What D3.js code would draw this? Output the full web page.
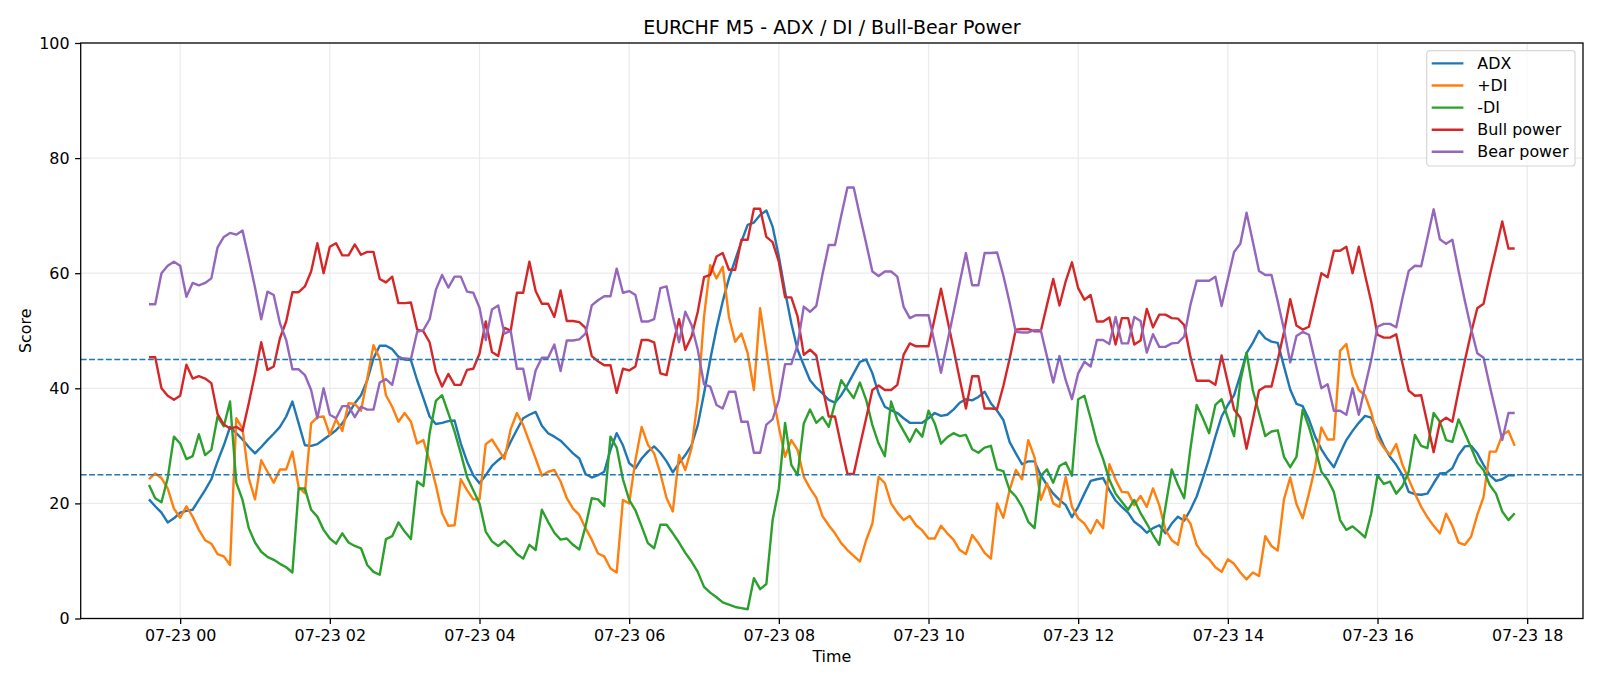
<!DOCTYPE html>
<html>
<head>
<meta charset="utf-8">
<script src="https://cdn.jsdelivr.net/npm/d3@7"></script>
<style>
  html, body { margin: 0; padding: 0; background: #fff; }
  svg { display: block; font-family: "DejaVu Sans", sans-serif; }
</style>
</head>
<body>
<div id="chart"></div>
<script>
// M5 bars, first bar 07-22 23:35 (UTC)
const startTime = Date.UTC(2025, 6, 22, 23, 35);
const stepMinutes = 5;

const adx = [
  20.7, 19.5, 18.4, 16.7, 17.4, 18.4, 18.7, 18.9, 20.6, 22.3,
  24.2, 27.3, 30.1, 33.3, 32.2, 31.1, 29.8, 28.7, 29.8, 31.0,
  32.1, 33.3, 35.1, 37.7, 33.9, 30.1, 30.0, 30.3, 31.1, 31.9,
  32.7, 33.9, 35.6, 37.4, 38.8, 41.4, 45.2, 47.4, 47.4, 46.8,
  45.5, 45.0, 44.9, 41.4, 38.3, 35.1, 33.8, 34.0, 34.3, 34.4,
  30.4, 27.3, 24.9, 23.5, 24.9, 26.5, 27.5, 28.4, 30.7, 32.8,
  34.8, 35.4, 35.9, 33.5, 32.2, 31.6, 30.9, 29.8, 28.7, 27.8,
  25.1, 24.5, 24.9, 25.5, 29.3, 32.2, 30.1, 27.0, 26.1, 27.8,
  29.0, 29.9, 28.8, 27.3, 25.4, 27.0, 28.4, 30.1, 33.6, 39.1,
  45.0, 50.4, 55.1, 59.1, 62.3, 65.5, 68.4, 68.8, 70.1, 70.9,
  68.1, 62.9, 56.8, 51.3, 46.7, 44.0, 41.4, 40.1, 39.1, 38.0,
  37.5, 38.8, 40.6, 42.6, 44.6, 45.0, 42.6, 39.1, 36.8, 36.2,
  35.7, 34.8, 34.0, 34.0, 34.0, 34.8, 35.7, 35.2, 35.4, 36.3,
  37.5, 38.1, 37.9, 38.5, 39.4, 37.4, 36.1, 34.5, 30.7, 28.7,
  26.8, 27.3, 27.3, 24.9, 23.2, 21.7, 20.6, 19.7, 17.6, 19.4,
  21.7, 23.9, 24.2, 24.4, 22.3, 20.5, 19.4, 18.4, 16.8, 16.0,
  14.9, 15.7, 16.2, 14.8, 16.5, 17.7, 17.0, 18.9, 21.2, 24.4,
  27.8, 31.6, 35.1, 37.1, 38.8, 42.3, 46.1, 47.9, 50.0, 48.7,
  48.1, 47.9, 43.8, 39.8, 37.3, 36.9, 34.6, 31.6, 29.4, 27.7,
  26.3, 28.7, 31.0, 32.6, 34.0, 35.2, 34.9, 32.5, 30.0, 28.1,
  26.7, 24.9, 22.0, 21.6, 21.5, 21.7, 23.5, 25.2, 25.3, 26.1,
  28.4, 29.9, 30.0, 28.7, 26.7, 24.9, 23.9, 24.2, 24.9, 24.9
];

const plusDI = [
  24.2, 25.2, 24.4, 22.6, 19.1, 17.5, 19.5, 17.7, 15.4, 13.6,
  13.0, 11.2, 10.8, 9.3, 34.8, 33.0, 24.4, 20.7, 27.5, 25.5,
  23.6, 25.9, 25.9, 29.0, 22.8, 21.8, 33.9, 35.0, 35.1, 31.9,
  34.6, 32.6, 37.4, 37.3, 36.1, 41.7, 47.5, 45.2, 38.8, 36.8,
  34.2, 35.7, 34.2, 30.4, 31.0, 27.3, 23.2, 18.3, 16.1, 16.2,
  24.2, 22.3, 20.7, 20.7, 30.3, 31.1, 29.4, 27.7, 32.9, 35.7,
  33.6, 30.7, 27.8, 24.8, 25.5, 25.8, 23.8, 20.9, 19.1, 18.0,
  15.7, 13.7, 11.3, 10.8, 8.7, 8.0, 20.6, 20.0, 27.5, 33.3,
  30.2, 28.7, 25.2, 20.9, 18.6, 28.4, 25.8, 29.6, 38.0, 52.4,
  61.4, 59.1, 61.1, 52.4, 48.1, 49.5, 46.1, 39.7, 53.9, 46.6,
  39.1, 33.3, 28.1, 31.0, 29.3, 24.6, 22.6, 21.0, 17.8, 16.2,
  14.8, 13.1, 11.9, 10.9, 9.9, 13.6, 16.5, 24.6, 23.5, 20.0,
  18.4, 17.1, 17.8, 16.2, 15.3, 13.9, 13.9, 16.1, 14.8, 13.7,
  11.9, 11.2, 14.5, 13.1, 11.4, 10.4, 20.0, 17.5, 22.3, 25.8,
  24.2, 31.0, 28.0, 20.6, 23.5, 20.0, 19.4, 24.6, 19.4, 17.4,
  16.5, 14.8, 17.1, 15.7, 26.8, 24.1, 22.0, 21.9, 19.7, 21.3,
  19.4, 22.6, 19.7, 15.4, 13.6, 12.8, 18.0, 16.5, 12.8, 11.2,
  10.3, 8.9, 8.1, 10.3, 9.5, 8.0, 6.8, 8.0, 7.4, 14.3,
  12.6, 11.8, 20.7, 24.5, 19.9, 17.4, 21.7, 26.3, 33.2, 31.1,
  31.1, 46.5, 47.7, 42.3, 39.7, 38.8, 35.8, 31.4, 29.7, 28.4,
  30.3, 26.7, 24.2, 21.7, 19.4, 17.6, 16.1, 14.8, 18.2, 16.1,
  13.2, 12.8, 14.2, 18.0, 21.1, 29.0, 29.0, 31.9, 32.6, 30.0
];

const minusDI = [
  23.2, 20.9, 20.2, 24.4, 31.6, 30.4, 27.7, 28.2, 32.0, 28.4,
  29.3, 35.1, 33.4, 37.7, 23.6, 20.6, 15.7, 13.2, 11.6, 10.7,
  10.2, 9.5, 8.9, 8.0, 22.6, 22.6, 18.9, 17.7, 15.4, 13.9,
  13.0, 14.8, 13.2, 12.6, 12.2, 9.3, 8.1, 7.6, 13.8, 14.3,
  16.7, 15.1, 13.8, 23.8, 23.0, 32.2, 37.8, 38.8, 35.7, 32.5,
  28.7, 24.6, 22.3, 20.0, 15.1, 13.4, 12.6, 13.5, 12.5, 11.2,
  10.4, 12.8, 11.9, 18.9, 16.8, 14.9, 13.7, 13.9, 12.8, 12.0,
  16.0, 20.9, 20.7, 19.5, 31.6, 29.7, 24.2, 20.6, 18.8, 16.0,
  13.1, 12.2, 16.3, 16.3, 14.8, 13.2, 11.4, 9.9, 8.1, 5.5,
  4.5, 3.7, 2.8, 2.4, 2.0, 1.8, 1.6, 7.0, 5.1, 6.0,
  17.1, 22.6, 34.0, 26.7, 24.9, 33.9, 36.3, 34.0, 35.0, 33.3,
  37.4, 41.4, 39.8, 38.3, 41.0, 38.0, 33.6, 30.4, 28.2, 37.7,
  34.5, 32.6, 30.7, 32.9, 31.6, 36.1, 33.9, 30.4, 31.5, 32.2,
  31.7, 31.9, 29.4, 28.8, 29.7, 30.0, 25.9, 25.6, 22.3, 21.2,
  19.4, 16.8, 15.7, 24.8, 25.9, 23.6, 26.5, 27.1, 24.8, 38.1,
  38.7, 34.8, 30.6, 27.7, 24.1, 21.7, 20.3, 18.9, 20.6, 18.3,
  16.5, 14.5, 12.8, 19.4, 25.9, 23.2, 20.9, 29.5, 37.1, 34.8,
  32.2, 37.1, 38.1, 34.8, 31.7, 41.2, 46.2, 39.7, 35.7, 31.7,
  32.5, 32.7, 28.1, 26.3, 28.1, 36.3, 33.3, 29.6, 25.5, 24.1,
  22.0, 17.1, 15.4, 16.0, 15.1, 14.1, 18.3, 24.9, 23.4, 23.8,
  21.7, 23.0, 25.5, 31.9, 30.0, 29.6, 35.7, 34.2, 31.0, 30.7,
  34.6, 32.2, 29.7, 27.1, 25.8, 23.2, 21.7, 18.6, 17.1, 18.3
];

const bullPower = [
  45.4, 45.4, 40.0, 38.7, 38.0, 38.7, 44.1, 41.7, 42.1, 41.7,
  40.9, 35.5, 33.7, 33.0, 33.3, 32.6, 37.4, 42.5, 48.0, 43.2,
  43.8, 48.7, 51.6, 56.7, 56.7, 57.7, 60.3, 65.2, 60.0, 64.6,
  65.2, 63.1, 63.1, 65.0, 63.2, 63.7, 63.7, 59.0, 58.4, 59.4,
  54.8, 54.8, 54.9, 50.2, 49.9, 48.0, 42.9, 40.3, 42.5, 40.6,
  40.6, 43.2, 43.4, 46.0, 51.6, 46.3, 45.6, 50.5, 50.0, 56.6,
  56.6, 62.0, 56.9, 54.7, 54.7, 52.4, 57.0, 51.7, 51.7, 51.5,
  50.5, 45.6, 44.7, 44.0, 44.0, 39.2, 43.4, 43.1, 43.8, 48.4,
  48.4, 48.0, 42.6, 42.3, 47.5, 52.0, 46.7, 49.0, 53.3, 59.3,
  59.7, 62.9, 63.5, 60.6, 60.6, 65.8, 65.8, 71.2, 71.2, 66.3,
  65.4, 62.0, 55.8, 55.8, 52.5, 45.8, 46.7, 45.7, 40.2, 35.1,
  35.1, 30.0, 25.1, 25.1, 30.0, 34.8, 39.7, 40.5, 39.7, 39.7,
  40.6, 45.8, 47.8, 47.3, 47.3, 47.3, 52.2, 57.3, 52.1, 46.9,
  41.6, 36.5, 42.1, 42.1, 36.5, 36.5, 36.4, 40.4, 45.1, 50.2,
  50.3, 50.3, 49.9, 49.9, 54.5, 59.0, 54.4, 58.6, 61.9, 57.4,
  55.4, 56.2, 51.6, 51.6, 52.3, 47.6, 52.2, 52.2, 47.6, 48.3,
  53.8, 50.6, 52.8, 52.8, 52.2, 52.1, 51.0, 45.5, 41.3, 41.3,
  41.3, 40.6, 45.7, 41.0, 36.3, 34.9, 29.5, 34.5, 39.6, 40.3,
  40.3, 44.9, 49.8, 55.5, 50.9, 50.2, 50.7, 55.4, 60.0, 59.3,
  63.9, 63.9, 64.6, 60.0, 64.6, 59.7, 55.0, 49.3, 48.8, 48.8,
  49.4, 44.3, 39.6, 38.7, 38.8, 33.9, 28.9, 34.1, 34.9, 34.2,
  39.6, 44.8, 49.6, 53.9, 54.7, 59.6, 64.2, 69.0, 64.3, 64.3
];

const bearPower = [
  54.6, 54.6, 60.0, 61.3, 62.0, 61.3, 55.9, 58.3, 57.9, 58.3,
  59.1, 64.5, 66.3, 67.0, 66.7, 67.4, 62.6, 57.5, 52.0, 56.8,
  56.2, 51.3, 48.4, 43.3, 43.3, 42.3, 39.7, 34.8, 40.0, 35.4,
  34.8, 36.9, 36.9, 35.0, 36.8, 36.3, 36.3, 41.0, 41.6, 40.6,
  45.2, 45.2, 45.1, 49.8, 50.1, 52.0, 57.1, 59.7, 57.5, 59.4,
  59.4, 56.8, 56.6, 54.0, 48.4, 53.7, 54.4, 49.5, 50.0, 43.4,
  43.4, 38.0, 43.1, 45.3, 45.3, 47.6, 43.0, 48.3, 48.3, 48.5,
  49.5, 54.4, 55.3, 56.0, 56.0, 60.8, 56.6, 56.9, 56.2, 51.6,
  51.6, 52.0, 57.4, 57.7, 52.5, 48.0, 53.3, 51.0, 46.7, 40.7,
  40.3, 37.1, 36.5, 39.4, 39.4, 34.2, 34.2, 28.8, 28.8, 33.7,
  34.6, 38.0, 44.2, 44.2, 47.5, 54.2, 53.3, 54.3, 59.8, 64.9,
  64.9, 70.0, 74.9, 74.9, 70.0, 65.2, 60.3, 59.5, 60.3, 60.3,
  59.4, 54.2, 52.2, 52.7, 52.7, 52.7, 47.8, 42.7, 47.9, 53.1,
  58.4, 63.5, 57.9, 57.9, 63.5, 63.5, 63.6, 59.6, 54.9, 49.8,
  49.7, 49.7, 50.1, 50.1, 45.5, 41.0, 45.6, 41.4, 38.1, 42.6,
  44.6, 43.8, 48.4, 48.4, 47.7, 52.4, 47.8, 47.8, 52.4, 51.7,
  46.2, 49.4, 47.2, 47.2, 47.8, 47.9, 49.0, 54.5, 58.7, 58.7,
  58.7, 59.4, 54.3, 59.0, 63.7, 65.1, 70.5, 65.5, 60.4, 59.7,
  59.7, 55.1, 50.2, 44.5, 49.1, 49.8, 49.3, 44.6, 40.0, 40.7,
  36.1, 36.1, 35.4, 40.0, 35.4, 40.3, 45.0, 50.7, 51.2, 51.2,
  50.6, 55.7, 60.4, 61.3, 61.2, 66.1, 71.1, 65.9, 65.1, 65.8,
  60.4, 55.2, 50.4, 46.1, 45.3, 40.4, 35.8, 31.0, 35.7, 35.7
];

const seriesNames  = ["ADX", "+DI", "-DI", "Bull power", "Bear power"];
const seriesColors = ["#1f77b4", "#ff7f0e", "#2ca02c", "#d62728", "#9467bd"];
const thresholds = [45, 25];
const yTickValues = [0, 20, 40, 60, 80, 100];

(function () {
  const W = 1600, H = 686;
  const margin = { top: 43, right: 17, bottom: 67.5, left: 80.7 };
  const width  = W - margin.left - margin.right;
  const height = H - margin.top - margin.bottom;

  const svgRoot = d3.select("#chart").append("svg")
      .attr("width", W)
      .attr("height", H);

  const svg = svgRoot.append("g")
      .attr("transform", `translate(${margin.left},${margin.top})`);

  const times = adx.map((_, i) => new Date(startTime + i * stepMinutes * 60000));
  const t0 = +times[0], t1 = +times[times.length - 1];
  const pad = (t1 - t0) * 0.05;   // matplotlib default x margin

  const x = d3.scaleUtc()
      .domain([new Date(t0 - pad), new Date(t1 + pad)])
      .range([0, width]);

  const y = d3.scaleLinear()
      .domain([0, 100])
      .range([height, 0]);

  const xTicks = x.ticks(d3.utcHour.every(2));

  // grid
  svg.append("g").selectAll("line")
    .data(xTicks)
    .join("line")
      .attr("x1", d => x(d)).attr("x2", d => x(d))
      .attr("y1", 0).attr("y2", height)
      .attr("stroke", "#ebebeb").attr("stroke-width", 1.27);

  svg.append("g").selectAll("line")
    .data(yTickValues)
    .join("line")
      .attr("x1", 0).attr("x2", width)
      .attr("y1", d => y(d)).attr("y2", d => y(d))
      .attr("stroke", "#ebebeb").attr("stroke-width", 1.27);

  // series
  const allSeries = [adx, plusDI, minusDI, bullPower, bearPower];
  const line = d3.line()
      .x((d, i) => x(times[i]))
      .y(d => y(d));

  svg.append("g").selectAll("path")
    .data(allSeries)
    .join("path")
      .attr("fill", "none")
      .attr("stroke", (d, i) => seriesColors[i])
      .attr("stroke-width", 2.4)
      .attr("stroke-linejoin", "round")
      .attr("d", line);

  // threshold lines
  svg.append("g").selectAll("line")
    .data(thresholds)
    .join("line")
      .attr("x1", 0).attr("x2", width)
      .attr("y1", d => y(d)).attr("y2", d => y(d))
      .attr("stroke", "#1f77b4")
      .attr("stroke-width", 1.5)
      .attr("stroke-dasharray", "5.9,2.5");

  // axes
  const xAxis = d3.axisBottom(x)
      .tickValues(xTicks)
      .tickFormat(d3.utcFormat("%m-%d %H"))
      .tickSize(5.6).tickSizeOuter(0).tickPadding(5.6);

  const yAxis = d3.axisLeft(y)
      .tickValues(yTickValues)
      .tickSize(5.6).tickSizeOuter(0).tickPadding(5.6);

  const gx = svg.append("g")
      .attr("transform", `translate(0,${height})`)
      .call(xAxis);
  const gy = svg.append("g").call(yAxis);

  [gx, gy].forEach(g => {
    g.select(".domain").remove();
    g.selectAll(".tick line").attr("stroke", "#000").attr("stroke-width", 1.27);
    g.selectAll(".tick text")
      .attr("fill", "#000")
      .style("font-size", "15.9px")
      .style("font-family", "'DejaVu Sans', sans-serif");
  });

  // frame
  svg.append("rect")
      .attr("width", width).attr("height", height)
      .attr("fill", "none")
      .attr("stroke", "#000")
      .attr("stroke-width", 1.27);

  // title and labels
  svgRoot.append("text")
      .attr("x", margin.left + width / 2).attr("y", 33.5)
      .attr("text-anchor", "middle")
      .style("font-size", "19px")
      .text("EURCHF M5 - ADX / DI / Bull-Bear Power");

  svgRoot.append("text")
      .attr("x", margin.left + width / 2).attr("y", 662)
      .attr("text-anchor", "middle")
      .style("font-size", "15.9px")
      .text("Time");

  svgRoot.append("text")
      .attr("transform", `translate(31,${margin.top + height / 2}) rotate(-90)`)
      .attr("text-anchor", "middle")
      .style("font-size", "15.9px")
      .text("Score");

  // legend
  const lg = svgRoot.append("g").attr("transform", "translate(1426.7,50.7)");
  lg.append("rect")
      .attr("width", 148.3).attr("height", 115.3)
      .attr("rx", 3)
      .attr("fill", "#fff").attr("fill-opacity", 0.8)
      .attr("stroke", "#d6d6d6").attr("stroke-width", 1.2);

  const items = lg.selectAll("g.item")
    .data(seriesNames)
    .join("g")
      .attr("class", "item")
      .attr("transform", (d, i) => `translate(0,${12.7 + i * 22.1})`);

  items.append("line")
      .attr("x1", 5).attr("x2", 36.7)
      .attr("stroke", (d, i) => seriesColors[i])
      .attr("stroke-width", 2.4);

  items.append("text")
      .attr("x", 50.6)
      .attr("dy", "0.35em")
      .style("font-size", "15.9px")
      .text(d => d);
})();
</script>
</body>
</html>
